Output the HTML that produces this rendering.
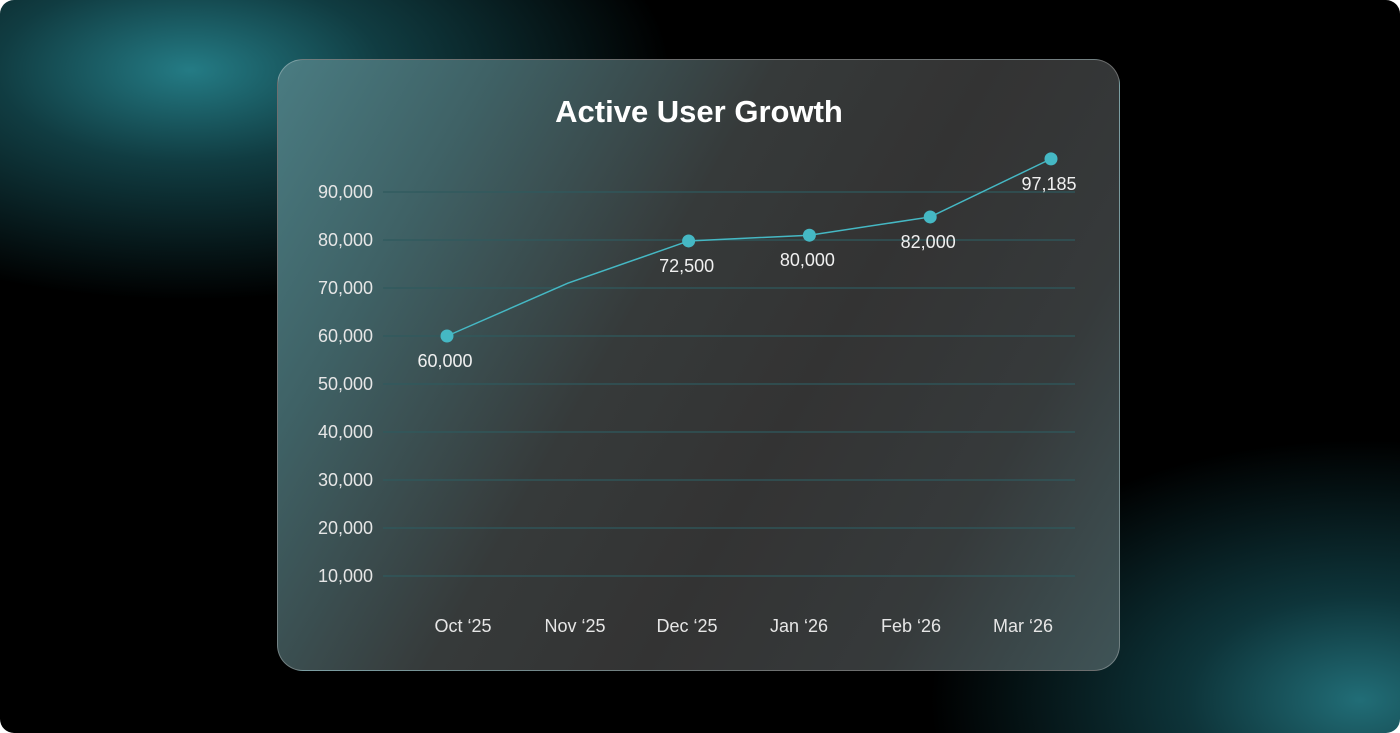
<!DOCTYPE html>
<html><head><meta charset="utf-8">
<style>
html,body{margin:0;padding:0;background:#fff;width:1400px;height:733px;overflow:hidden;}
#frame{position:relative;width:1400px;height:733px;border-radius:14px;overflow:hidden;
 background:
  radial-gradient(ellipse 480px 230px at 190px 70px,rgba(38,130,140,0.95) 0%,rgba(30,110,120,0.55) 40%,rgba(0,0,0,0) 100%),
  radial-gradient(ellipse 430px 260px at 1360px 700px,rgba(35,115,125,0.95) 0%,rgba(25,95,105,0.55) 40%,rgba(0,0,0,0) 100%),
  #000;}
#card{position:absolute;left:277px;top:59px;width:843px;height:612px;border-radius:26px;
 border:1px solid rgba(255,255,255,0.28);overflow:hidden;box-sizing:border-box;
 background:linear-gradient(120deg,#4a7c82 0%,#3f6266 18%,#363a3a 42%,#333 60%,#363a3b 80%,#3f5457 100%);}
svg{position:absolute;left:0;top:0;}
text{font-family:"Liberation Sans",sans-serif;}
</style></head>
<body>
<div id="frame">
<div id="card"></div>
<svg id="chart" width="1400" height="733"></svg>
</div>
<script>
const categories=["Oct \u201825","Nov \u201825","Dec \u201825","Jan \u201826","Feb \u201826","Mar \u201826"];
const values=[60000,71000,79800,81000,84800,96900];
const markers=[true,false,true,true,true,true];
const pointLabels=["60,000","","72,500","80,000","82,000","97,185"];
const yTicks=[10000,20000,30000,40000,50000,60000,70000,80000,90000];

const NS="http://www.w3.org/2000/svg";
const svg=document.getElementById('chart');
function y(v){return 192+(90000-v)/10000*48;}
function xPt(i){return 447+i*120.8;}
function xCat(i){return 463+i*112;}
function mk(tag,attrs){const e=document.createElementNS(NS,tag);for(const k in attrs)e.setAttribute(k,attrs[k]);svg.appendChild(e);return e;}

const title=mk('text',{x:699,y:122,'text-anchor':'middle','font-size':31,'font-weight':'bold',fill:'#fff'});
title.textContent="Active User Growth";



yTicks.forEach(t=>{
  const g=mk('line',{x1:383,x2:1075,y1:y(t),y2:y(t),stroke:'#2f5a5e','stroke-width':1.2});
  
  
  const l=mk('text',{x:373,y:y(t)+6,'text-anchor':'end','font-size':18,fill:'#e6e6e6'});
  l.textContent=t.toLocaleString('en-US');
  
  
});
categories.forEach((c,i)=>{
  const l=mk('text',{x:xCat(i),y:632,'text-anchor':'middle','font-size':18,fill:'#e6e6e6'});
  l.textContent=c;
  
  
});
const pts=values.map((v,i)=>xPt(i)+','+y(v)).join(' ');
const line=mk('polyline',{points:pts,fill:'none',stroke:'#45b8c4','stroke-width':1.5});


values.forEach((v,i)=>{
  if(markers[i]){
    const c=mk('circle',{cx:xPt(i),cy:y(v),r:6.5,fill:'#45b8c4'});
    
    
  }
  if(pointLabels[i]){
    const t=mk('text',{x:xPt(i)-2,y:y(v)+31,'text-anchor':'middle','font-size':18,fill:'#f0f0f0'});
    t.textContent=pointLabels[i];
    
    
  }
});
</script>
</body></html>
